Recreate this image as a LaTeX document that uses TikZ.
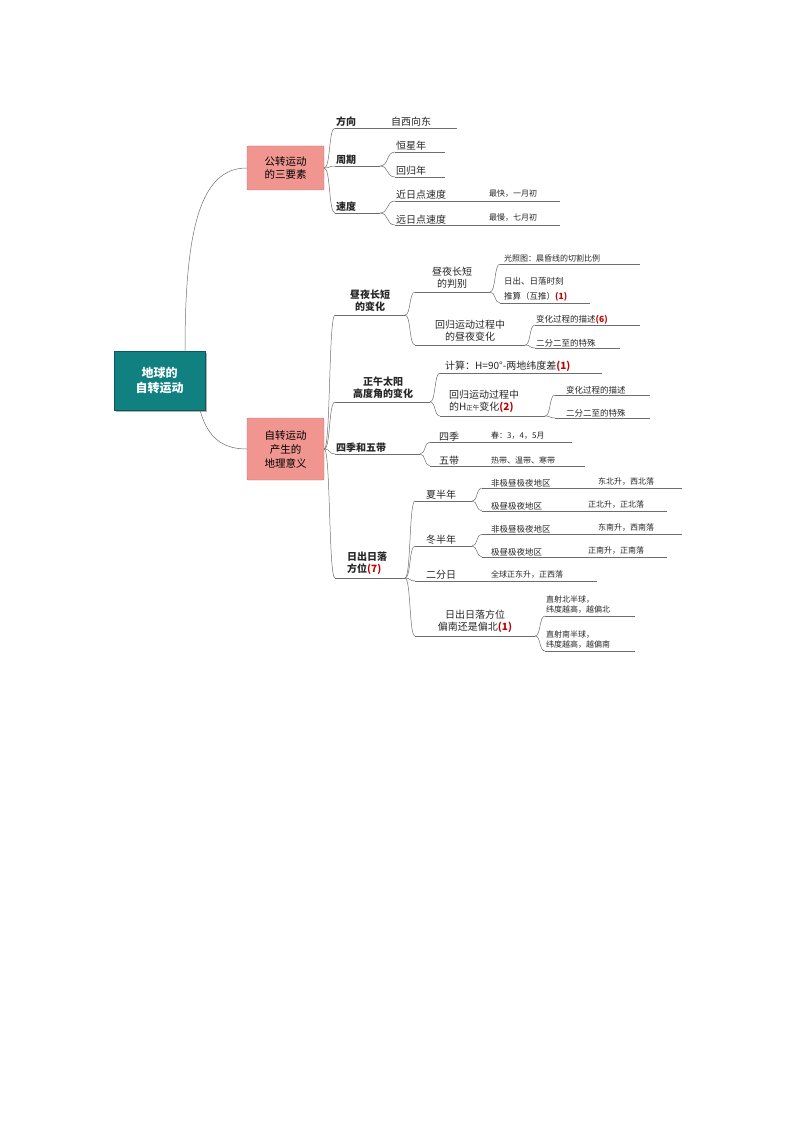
\documentclass[tikz,border=0pt]{standalone}
\usepackage{fontspec}
\setmainfont{Noto Sans CJK SC}
\usetikzlibrary{calc}
\definecolor{ln}{HTML}{6E6E6E}
\definecolor{rd}{HTML}{C00000}
\definecolor{teal1}{HTML}{108080}
\definecolor{sal}{HTML}{F0958F}
\tikzset{
 lbl/.style={inner sep=1pt,font=\fontsize{10}{12}\selectfont,align=left,text=black!85},
 sm/.style={font=\fontsize{8}{10}\selectfont},
 bd/.style={font=\fontsize{10}{12}\selectfont\bfseries},
 ul/.style={draw=ln,line width=0.5pt},
}
\newcommand{\br}[5]{\node[lbl,anchor=south west] (#1) at (#2,#4) {#5};
 \coordinate (#1-l) at (#2,#4); \coordinate (#1-r) at (#3,#4);
 \draw[ul] (#1-l)--(#1-r);}
\newcommand{\tx}[4]{\node[lbl,sm,anchor=south west] (#1) at (#2,#3) {#4};}
\newcommand{\cn}[2]{\draw[ul] (#1) .. controls ($(#1)!0.6!(#2|-#1)$) and ($(#2)!0.6!(#1|-#2)$) .. (#2);}
\newcommand{\rr}[1]{\textcolor{rd}{\bfseries #1}}
\begin{document}
\begin{tikzpicture}[x=1pt,y=-1pt]
\useasboundingbox (0,0) rectangle (794,1123);
% boxes
\node[fill=black!30,minimum width=91,minimum height=59,inner sep=0] at (161.5,382.5) {};
\node[fill=teal1,draw=teal1!70!black,minimum width=91,minimum height=59,inner sep=0,text=white,font=\fontsize{12}{15}\selectfont\bfseries,align=center] (root) at (159.5,380.5) {地球的\\自转运动};
\node[fill=sal,draw=sal!80!black,rounded corners=1,minimum width=77,minimum height=44,inner sep=0,align=center,font=\fontsize{10.5}{13}\selectfont] (A) at (285.5,168) {公转运动\\的三要素};
\node[fill=sal,draw=sal!80!black,rounded corners=1,minimum width=77,minimum height=62,inner sep=0,align=center,font=\fontsize{10.5}{14}\selectfont] (B) at (285.5,449) {自转运动\\产生的\\地理意义};
\draw[ul] (185,351) .. controls (185,230) and (200,168) .. (A.west);
\draw[ul] (200,410) .. controls (208,440) and (225,449) .. (B.west);
% A branch
\br{fx}{335}{390}{128}{\bfseries 方向}
\br{fx2}{390}{457}{128}{自西向东}
\br{zq}{335}{380}{166}{\bfseries 周期}
\br{hx}{395}{445}{152}{恒星年}
\br{hg}{395}{445}{177}{回归年}
\br{sd}{335}{380}{213}{\bfseries 速度}
\br{jr}{395}{560}{201}{近日点速度}
\tx{jr2}{488}{199}{最快，一月初}
\br{yr}{395}{560}{225}{远日点速度}
\tx{yr2}{488}{223}{最慢，七月初}
\coordinate (Ae) at (A.east);
\cn{Ae}{fx-l}\cn{Ae}{zq-l}\cn{Ae}{sd-l}
\cn{zq-r}{hx-l}\cn{zq-r}{hg-l}\cn{sd-r}{jr-l}\cn{sd-r}{yr-l}
% B branch
\coordinate (Be) at (B.east);
\node[lbl,bd,anchor=south,align=center] (zy) at (370,313) {昼夜长短\\的变化};
\coordinate (zy-l) at (335,315);\coordinate (zy-r) at (405,315);\draw[ul](zy-l)--(zy-r);
\node[lbl,anchor=south,align=center] (pb) at (452,290) {昼夜长短\\的判别};
\coordinate (pb-l) at (415,292);\coordinate (pb-r) at (490,292);\draw[ul](pb-l)--(pb-r);
\node[lbl,sm,anchor=south west] (gz) at (503,263) {光照图：晨昏线的切割比例};
\coordinate (gz-l) at (500,264);\coordinate (gz-r) at (640,264);\draw[ul](gz-l)--(gz-r);
\node[lbl,sm,anchor=south west,font=\fontsize{8.5}{15}\selectfont] (rc) at (503,302) {日出、日落时刻\\推算（互推）\rr{(1)}};
\coordinate (rc-l) at (500,303);\coordinate (rc-r) at (590,303);\draw[ul](rc-l)--(rc-r);
\node[lbl,anchor=south,align=center] (hz) at (470,343) {回归运动过程中\\的昼夜变化};
\coordinate (hz-l) at (415,345);\coordinate (hz-r) at (525,345);\draw[ul](hz-l)--(hz-r);
\br{bh}{535}{640}{325}{\fontsize{8.5}{10}\selectfont 变化过程的描述\rr{(6)}}
\br{ef}{535}{620}{348}{\fontsize{8.5}{10}\selectfont 二分二至的特殊}
\cn{Be}{zy-l}\cn{zy-r}{pb-l}\cn{zy-r}{hz-l}\cn{pb-r}{gz-l}\cn{pb-r}{rc-l}\cn{hz-r}{bh-l}\cn{hz-r}{ef-l}
% noon
\node[lbl,bd,anchor=south,align=center] (zw) at (383,400) {正午太阳\\高度角的变化};
\coordinate (zw-l) at (335,402);\coordinate (zw-r) at (430,402);\draw[ul](zw-l)--(zw-r);
\br{js}{440}{602}{373}{\hspace{4pt}计算：H=90°-两地纬度差\rr{(1)}}
\node[lbl,anchor=south west] (hh) at (448,414) {回归运动过程中\\的H{\fontsize{6.5}{7}\selectfont 正午}变化\rr{(2)}};
\coordinate (hh-l) at (440,416);\coordinate (hh-r) at (545,416);\draw[ul](hh-l)--(hh-r);
\br{bh2}{555}{650}{395}{\fontsize{8.5}{10}\selectfont\hspace{10pt}变化过程的描述}
\br{ef2}{555}{650}{418}{\fontsize{8.5}{10}\selectfont\hspace{10pt}二分二至的特殊}
\cn{Be}{zw-l}\cn{zw-r}{js-l}\cn{zw-r}{hh-l}\cn{hh-r}{bh2-l}\cn{hh-r}{ef2-l}
% seasons
\br{sj}{335}{420}{454}{\bfseries 四季和五带}
\br{sj4}{430}{572}{442}{\hspace{8pt}四季}
\tx{sj4b}{490}{441}{春：3，4，5月}
\br{wd}{430}{585}{466}{\hspace{8pt}五带}
\tx{wdb}{490}{465}{热带、温带、寒带}
\cn{Be}{sj-l}\cn{sj-r}{sj4-l}\cn{sj-r}{wd-l}
% sunrise
\node[lbl,bd,anchor=south west] (rf) at (346,576) {日出日落\\方位\rr{(7)}};
\coordinate (rf-l) at (335,578);\coordinate (rf-r) at (405,578);\draw[ul](rf-l)--(rf-r);
\br{xb}{415}{472}{501}{\hspace{10pt}夏半年}
\br{x1}{482}{682}{488}{\fontsize{8.5}{10}\selectfont\hspace{8pt}非极昼极夜地区}
\tx{x1b}{597}{487}{东北升，西北落}
\br{x2}{482}{667}{511}{\fontsize{8.5}{10}\selectfont\hspace{8pt}极昼极夜地区}
\tx{x2b}{587}{510}{正北升，正北落}
\br{db}{415}{472}{546}{\hspace{10pt}冬半年}
\br{d1}{482}{682}{534}{\fontsize{8.5}{10}\selectfont\hspace{8pt}非极昼极夜地区}
\tx{d1b}{597}{533}{东南升，西南落}
\br{d2}{482}{667}{557}{\fontsize{8.5}{10}\selectfont\hspace{8pt}极昼极夜地区}
\tx{d2b}{587}{556}{正南升，正南落}
\br{ef3}{415}{597}{581}{\hspace{10pt}二分日}
\tx{ef3b}{490}{580}{全球正东升，正西落}
\node[lbl,anchor=south,align=center] (pn) at (475,634) {日出日落方位\\偏南还是偏北\rr{(1)}};
\coordinate (pn-l) at (415,636);\coordinate (pn-r) at (535,636);\draw[ul](pn-l)--(pn-r);
\node[lbl,sm,anchor=south west] (zb) at (545,615) {直射北半球，\\纬度越高，越偏北};
\coordinate (zb-l) at (545,616);\coordinate (zb-r) at (635,616);\draw[ul](zb-l)--(zb-r);
\node[lbl,sm,anchor=south west] (zn) at (545,650) {直射南半球，\\纬度越高，越偏南};
\coordinate (zn-l) at (545,651);\coordinate (zn-r) at (635,651);\draw[ul](zn-l)--(zn-r);
\cn{Be}{rf-l}\cn{rf-r}{xb-l}\cn{rf-r}{db-l}\cn{rf-r}{ef3-l}\cn{rf-r}{pn-l}
\cn{xb-r}{x1-l}\cn{xb-r}{x2-l}\cn{db-r}{d1-l}\cn{db-r}{d2-l}\cn{pn-r}{zb-l}\cn{pn-r}{zn-l}
\end{tikzpicture}
\end{document}
